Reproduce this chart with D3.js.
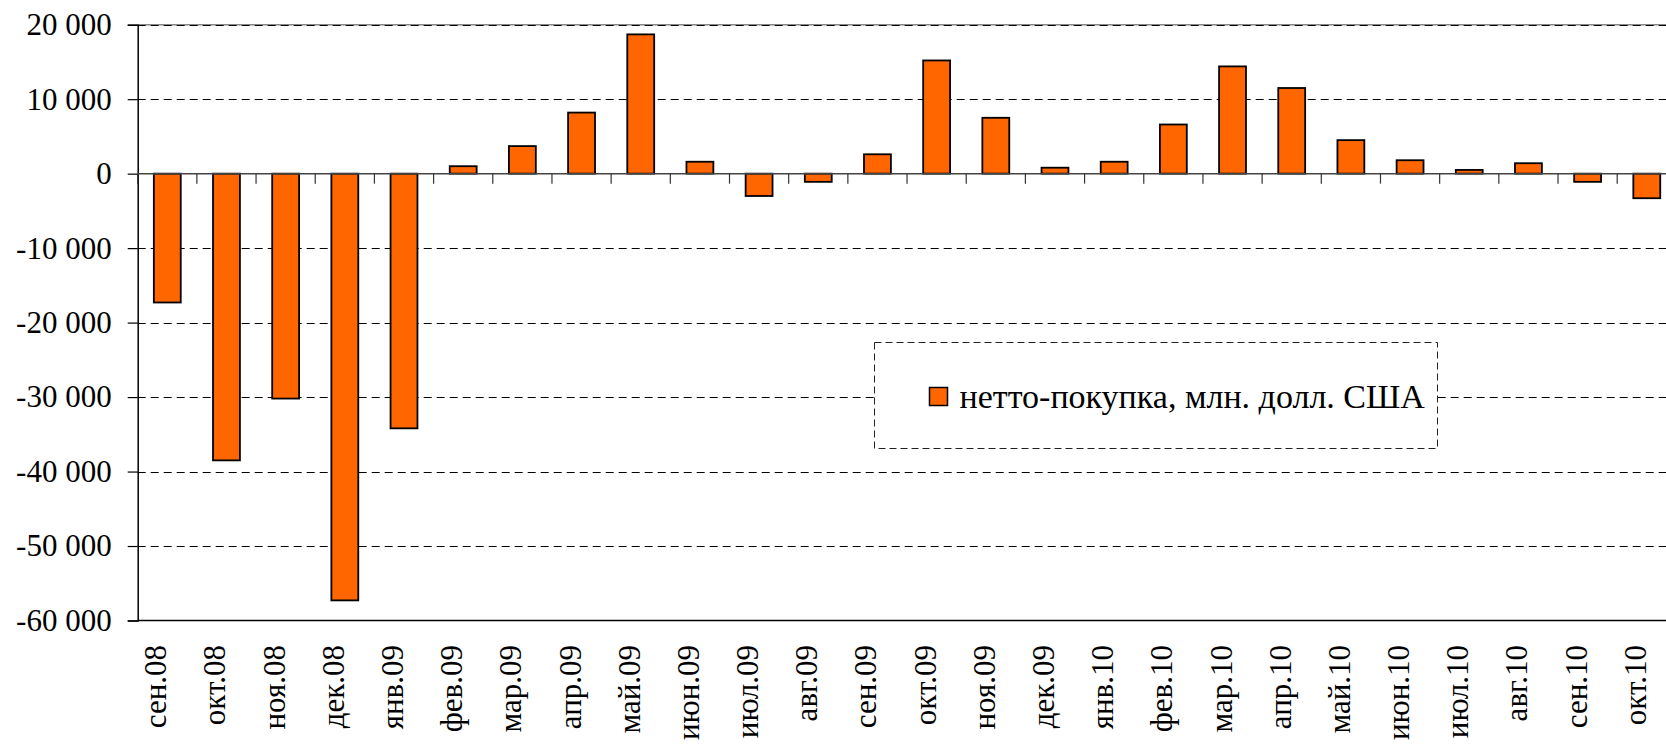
<!doctype html>
<html lang="ru">
<head>
	<meta charset="UTF-8">
	<title>нетто-покупка</title>
	<style>
		body { margin: 0; background: #fff; }
		svg { display: block; }
		text { font-family: "Liberation Serif", "Times New Roman", serif; fill: #000; }
		.tick-label { font-size: 31px; }
		.legend-label { font-size: 34px; }
	</style>
</head>
<body>
	<script src="https://cdn.jsdelivr.net/npm/d3@7"></script>
	<script>
		// months
		var categories = [
			'сен.08', 'окт.08', 'ноя.08', 'дек.08', 'янв.09', 'фев.09', 'мар.09',
			'апр.09', 'май.09', 'июн.09', 'июл.09', 'авг.09', 'сен.09', 'окт.09',
			'ноя.09', 'дек.09', 'янв.10', 'фев.10', 'мар.10', 'апр.10', 'май.10',
			'июн.10', 'июл.10', 'авг.10', 'сен.10', 'окт.10'
		];

		// нетто-покупка, млн. долл. США
		var values = [
			-17300, -38500, -30200, -57300, -34200, 1000, 3700,
			8200, 18700, 1600, -3000, -1100, 2600, 15200,
			7500, 800, 1600, 6600, 14400, 11500, 4500,
			1800, 500, 1400, -1100, -3300
		];

		var yTicks = [20000, 10000, 0, -10000, -20000, -30000, -40000, -50000, -60000];
		var seriesName = 'нетто-покупка, млн. долл. США';

		var w = 1666,
			h = 744,
			plotLeft = 137.7,
			step = 59.18,
			plotTop = 24.7,
			plotBottom = 620.5;

		var svg = d3.select('body')
			.append('svg')
			.attr('width', w)
			.attr('height', h);

		var xScale = d3.scaleBand()
			.domain(categories)
			.range([plotLeft, plotLeft + step * categories.length])
			.padding(0);

		var yScale = d3.scaleLinear()
			.domain([-60000, 20000])
			.range([plotBottom, plotTop]);

		var fmt = d3.formatLocale({
			decimal: ',',
			thousands: ' ',
			grouping: [3],
			currency: ['', ''],
			minus: '-'
		}).format(',d');

		// plot border at top
		svg.append('line')
			.attr('x1', plotLeft).attr('x2', w)
			.attr('y1', yScale(20000)).attr('y2', yScale(20000))
			.attr('stroke', '#888')
			.attr('stroke-width', 1.5);

		// gridlines
		svg.selectAll('.grid')
			.data(yTicks.filter(function(d) { return d !== 0 && d !== -60000; }))
			.enter()
			.append('line')
			.attr('class', 'grid')
			.attr('x1', plotLeft).attr('x2', w)
			.attr('y1', function(d) { return Math.round(yScale(d)) + 0.5; })
			.attr('y2', function(d) { return Math.round(yScale(d)) + 0.5; })
			.attr('stroke', '#000')
			.attr('stroke-width', 1)
			.attr('stroke-dasharray', '8,5');

		// bottom line
		svg.append('line')
			.attr('x1', plotLeft).attr('x2', w)
			.attr('y1', plotBottom).attr('y2', plotBottom)
			.attr('stroke', '#000')
			.attr('stroke-width', 1.5);

		// y axis
		var yAxis = d3.axisLeft(yScale)
			.tickValues(yTicks)
			.tickSize(10)
			.tickPadding(16)
			.tickFormat(fmt);

		var gy = svg.append('g')
			.attr('transform', 'translate(' + plotLeft + ',0)')
			.call(yAxis);
		gy.attr('font-size', null).attr('font-family', null);
		gy.select('.domain').attr('stroke', '#000').attr('stroke-width', 1.5);
		gy.selectAll('.tick line').attr('stroke', '#000').attr('stroke-width', 1.2);
		gy.selectAll('.tick text')
			.attr('class', 'tick-label')
			.attr('fill', '#000');

		// bars
		var barW = xScale.bandwidth() / 2.2;
		svg.selectAll('.bar')
			.data(values)
			.enter()
			.append('rect')
			.attr('class', 'bar')
			.attr('x', function(d, i) { return xScale(categories[i]) + (xScale.bandwidth() - barW) / 2; })
			.attr('y', function(d) { return yScale(Math.max(0, d)); })
			.attr('width', barW)
			.attr('height', function(d) { return Math.abs(yScale(d) - yScale(0)); })
			.attr('fill', '#FF6600')
			.attr('stroke', '#000')
			.attr('stroke-width', 1.8);

		// zero line with category ticks
		var gx = svg.append('g')
			.attr('transform', 'translate(0,' + yScale(0) + ')');
		gx.append('line')
			.attr('x1', plotLeft).attr('x2', w)
			.attr('y1', 0).attr('y2', 0)
			.attr('stroke', '#444')
			.attr('stroke-width', 1.5);
		gx.selectAll('.xtick')
			.data(categories)
			.enter()
			.append('line')
			.attr('class', 'xtick')
			.attr('x1', function(d) { return xScale(d); })
			.attr('x2', function(d) { return xScale(d); })
			.attr('y1', 0).attr('y2', 10)
			.attr('stroke', '#333')
			.attr('stroke-width', 1.2);

		// category labels (low position)
		svg.selectAll('.xlabel')
			.data(categories)
			.enter()
			.append('text')
			.attr('class', 'tick-label xlabel')
			.attr('text-anchor', 'end')
			.attr('transform', function(d) {
				return 'translate(' + (xScale(d) + xScale.bandwidth() / 2 - 1) + ',' + 645 + ') rotate(-90)';
			})
			.text(function(d) { return d; });

		// legend
		var lg = svg.append('g').attr('transform', 'translate(874.5,342.5)');
		lg.append('rect')
			.attr('width', 563)
			.attr('height', 106)
			.attr('fill', '#fff')
			.attr('stroke', '#222')
			.attr('stroke-width', 1)
			.attr('stroke-dasharray', '7,4');
		lg.append('rect')
			.attr('x', 55)
			.attr('y', 45)
			.attr('width', 18)
			.attr('height', 18)
			.attr('fill', '#FF6600')
			.attr('stroke', '#000')
			.attr('stroke-width', 1.5);
		lg.append('text')
			.attr('class', 'legend-label')
			.attr('x', 85)
			.attr('y', 65)
			.text(seriesName);
	</script>
</body>
</html>
